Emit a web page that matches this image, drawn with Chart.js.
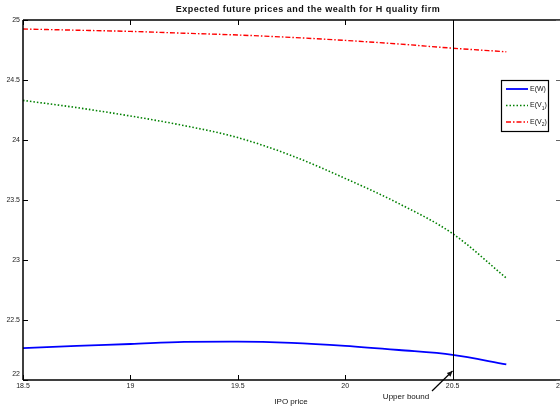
<!DOCTYPE html>
<html><head><meta charset="utf-8">
<script src="https://cdn.jsdelivr.net/npm/chart.js@4/dist/chart.umd.min.js"></script>
<style>html,body{margin:0;padding:0;background:#fff}#wrap{width:560px;height:408px}</style>
</head><body><div id="wrap"><canvas id="c" width="560" height="408"></canvas></div>
<script>
const ipoPrice = [18.5, 18.75, 19, 19.25, 19.5, 19.75, 20, 20.25, 20.5, 20.75];
const wealthEW = [22.265, 22.285, 22.30, 22.318, 22.32, 22.31, 22.285, 22.25, 22.21, 22.13];
const priceEV1 = [24.33, 24.27, 24.20, 24.12, 24.02, 23.87, 23.68, 23.47, 23.22, 22.85];
const priceEV2 = [24.925, 24.915, 24.905, 24.89, 24.875, 24.855, 24.83, 24.80, 24.765, 24.735];
const xTicks = [18.5, 19, 19.5, 20, 20.5, 21];
const yTicks = [22, 22.5, 23, 23.5, 24, 24.5, 25];
const upperBound = 20.5;
const titleText = 'Expected future prices and the wealth for H quality firm';
const xLabel = 'IPO price';
const annotText = 'Upper bound';

const pts = ys => ipoPrice.map((x, i) => ({x, y: ys[i]}));
const FONT = 'Liberation Sans, Arial, sans-serif';

const deco = {
  id: 'deco',
  afterDraw(chart) {
    const ctx = chart.ctx, a = chart.chartArea;
    const xs = chart.scales.x, ys = chart.scales.y;
    ctx.save();
    // vertical upper bound line
    const ux = Math.round(xs.getPixelForValue(upperBound)) + 0.5;
    ctx.strokeStyle = '#000'; ctx.lineWidth = 1;
    ctx.beginPath(); ctx.moveTo(ux, a.top); ctx.lineTo(ux, a.bottom); ctx.stroke();
    // frame (right edge lies just outside the window)
    ctx.lineWidth = 1.5;
    ctx.beginPath();
    ctx.moveTo(a.left, a.top); ctx.lineTo(a.right + 2, a.top);
    ctx.moveTo(a.left, a.top); ctx.lineTo(a.left, a.bottom);
    ctx.moveTo(a.left, a.bottom); ctx.lineTo(a.right + 2, a.bottom);
    ctx.stroke();
    // inward ticks
    ctx.lineWidth = 1;
    ctx.beginPath();
    xTicks.forEach(v => {
      const px = Math.round(xs.getPixelForValue(v)) + 0.5;
      ctx.moveTo(px, a.bottom); ctx.lineTo(px, a.bottom - 5);
      ctx.moveTo(px, a.top); ctx.lineTo(px, a.top + 5);
    });
    yTicks.forEach(v => {
      const py = Math.round(ys.getPixelForValue(v)) + 0.5;
      ctx.moveTo(a.left, py); ctx.lineTo(a.left + 5, py);
    });
    ctx.stroke();
    ctx.strokeStyle = '#666';
    ctx.beginPath();
    yTicks.forEach(v => {
      const py = Math.round(ys.getPixelForValue(v)) + 0.5;
      ctx.moveTo(a.right + 1, py); ctx.lineTo(a.right - 4, py);
    });
    ctx.stroke();
    ctx.strokeStyle = '#000';
    // tick labels
    ctx.fillStyle = '#222';
    ctx.font = '7px ' + FONT;
    ctx.textAlign = 'center'; ctx.textBaseline = 'middle';
    xTicks.forEach(v => {
      ctx.fillText(String(v), xs.getPixelForValue(v), a.bottom + 6);
    });
    ctx.textAlign = 'right';
    yTicks.forEach(v => {
      let py = ys.getPixelForValue(v);
      if (v === 22) py -= 6;
      ctx.fillText(String(v), a.left - 3, py);
    });
    // title
    ctx.fillStyle = '#111';
    ctx.font = 'bold 9px ' + FONT;
    if ('letterSpacing' in ctx) ctx.letterSpacing = '0.5px';
    ctx.textAlign = 'center';
    ctx.fillText(titleText, 308, 10);
    if ('letterSpacing' in ctx) ctx.letterSpacing = '0px';
    // x label
    ctx.font = '8px ' + FONT;
    ctx.fillText(xLabel, 291, 402);
    // annotation
    ctx.fillText(annotText, 406, 397);
    const tx = 432, ty = 391, hx = ux - 1, hy = a.bottom - 9;
    ctx.lineWidth = 1.2;
    ctx.beginPath(); ctx.moveTo(tx, ty); ctx.lineTo(hx, hy); ctx.stroke();
    const ang = Math.atan2(hy - ty, hx - tx);
    ctx.beginPath();
    ctx.moveTo(hx, hy);
    ctx.lineTo(hx - 6 * Math.cos(ang - 0.45), hy - 6 * Math.sin(ang - 0.45));
    ctx.lineTo(hx - 6 * Math.cos(ang + 0.45), hy - 6 * Math.sin(ang + 0.45));
    ctx.closePath(); ctx.fill();
    // legend
    const lx = 501.5, ly = 80.5, lw = 47, lh = 51;
    ctx.fillStyle = '#fff'; ctx.fillRect(lx, ly, lw, lh);
    ctx.strokeStyle = '#000'; ctx.lineWidth = 1.2; ctx.strokeRect(lx, ly, lw, lh);
    const items = [
      {c: '#0000ff', d: [], w: 1.8, t: 'E(W)', sub: ''},
      {c: '#008000', d: [1.5, 2], w: 1.6, t: 'E(V', sub: '1'},
      {c: '#ff0000', d: [5, 2, 1.5, 2], w: 1.4, t: 'E(V', sub: '2'}
    ];
    items.forEach((it, i) => {
      const y = 89 + i * 16.5;
      ctx.strokeStyle = it.c; ctx.lineWidth = it.w; ctx.setLineDash(it.d);
      ctx.beginPath(); ctx.moveTo(506, y); ctx.lineTo(528, y); ctx.stroke();
      ctx.setLineDash([]);
      ctx.fillStyle = '#111'; ctx.textAlign = 'left'; ctx.font = '7px ' + FONT;
      ctx.fillText(it.t, 530, y);
      if (it.sub) {
        let w = ctx.measureText(it.t).width;
        ctx.font = '5px ' + FONT;
        ctx.fillText(it.sub, 530 + w, y + 3);
        const sw = ctx.measureText(it.sub).width;
        ctx.font = '7px ' + FONT;
        ctx.fillText(')', 530 + w + sw, y);
      }
    });
    ctx.restore();
  }
};

new Chart(document.getElementById('c'), {
  type: 'line',
  data: {
    datasets: [
      {label: 'E(W)', data: pts(wealthEW), borderColor: '#0000ff', borderWidth: 1.8, pointRadius: 0, cubicInterpolationMode: 'monotone'},
      {label: 'E(V1)', data: pts(priceEV1), borderColor: '#008000', borderWidth: 1.6, borderDash: [1.5, 2], pointRadius: 0, cubicInterpolationMode: 'monotone'},
      {label: 'E(V2)', data: pts(priceEV2), borderColor: '#ff0000', borderWidth: 1.4, borderDash: [5, 2, 1.5, 2], pointRadius: 0, cubicInterpolationMode: 'monotone'}
    ]
  },
  options: {
    responsive: false, animation: false, devicePixelRatio: 1,
    layout: {padding: {top: 20, right: 0, left: 0, bottom: 0}},
    plugins: {legend: {display: false}, title: {display: false}, tooltip: {enabled: false}},
    scales: {
      x: {type: 'linear', min: 18.5, max: 21, grid: {display: false}, border: {display: false},
          ticks: {display: false}, afterFit(s) { s.height = 28; }},
      y: {type: 'linear', min: 22, max: 25, grid: {display: false}, border: {display: false},
          ticks: {display: false}, afterFit(s) { s.width = 23; }}
    }
  },
  plugins: [deco]
});
</script></body></html>
